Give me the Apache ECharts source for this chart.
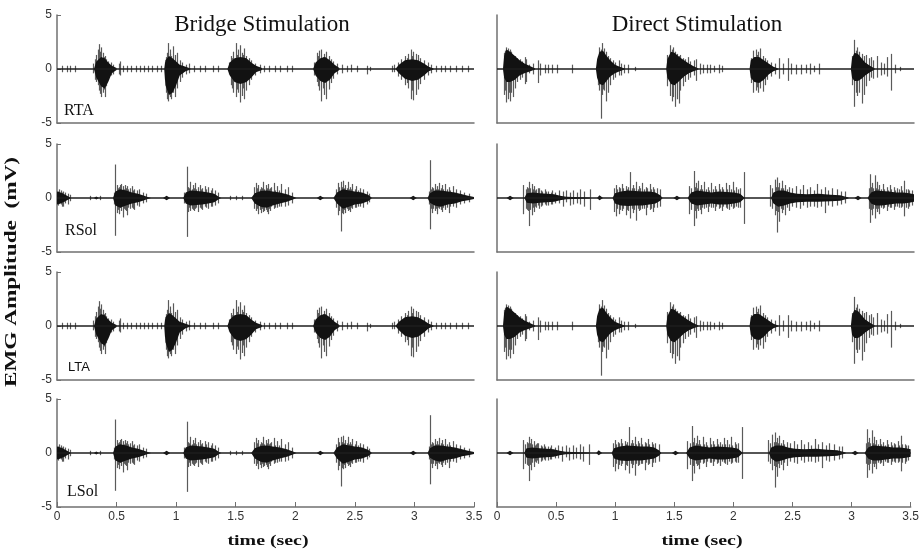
<!DOCTYPE html>
<html>
<head>
<meta charset="utf-8">
<script src="https://cdn.jsdelivr.net/npm/echarts@6/dist/echarts.min.js"></script>
<style>
  html, body { margin: 0; padding: 0; background: #fff; }
  #chart { width: 922px; height: 553px; }
</style>
</head>
<body>
<div id="chart"></div>
<script>
// axis ranges
var timeMin = 0, timeMax = 3.5, timeStep = 0.5;
var ampMin = -5, ampMax = 5, ampStep = 5;

var columns = ['Bridge Stimulation', 'Direct Stimulation'];
var muscles = ['RTA', 'RSol', 'LTA', 'LSol'];

// dense bursts: envelope points [t, upper, lower]
var bridgeTACores = [
  [[0.31,0,0],[0.33,0.7,-0.8],[0.37,1.1,-1.6],[0.40,1.0,-1.8],[0.43,0.6,-1.2],[0.46,0.3,-0.4],[0.50,0.1,-0.1]],
  [[0.90,0,0],[0.91,0.8,-1.5],[0.94,1.2,-2.4],[0.97,1.0,-2.2],[1.00,0.7,-1.5],[1.03,0.4,-0.6],[1.08,0.2,-0.2],[1.12,0.05,-0.05]],
  [[1.43,0,0],[1.45,0.6,-0.6],[1.49,1.0,-1.2],[1.54,1.1,-1.4],[1.59,1.0,-1.2],[1.63,0.6,-0.8],[1.67,0.3,-0.3],[1.72,0.1,-0.1]],
  [[2.15,0,0],[2.17,0.6,-0.6],[2.21,1.0,-1.1],[2.25,1.1,-1.3],[2.29,0.8,-1.0],[2.33,0.4,-0.4],[2.37,0.1,-0.1]],
  [[2.84,0,0],[2.87,0.4,-0.4],[2.92,0.8,-0.9],[2.98,0.9,-1.1],[3.03,0.8,-1.0],[3.08,0.5,-0.6],[3.12,0.2,-0.2],[3.16,0.05,-0.05]]
];
// single spikes: [t, upper, lower]
var bridgeTASpikes = [
  [0.04,0.3,-0.3],[0.08,0.3,-0.3],[0.11,0.3,-0.3],[0.15,0.3,-0.3],
  [0.30,0.5,-0.4],[0.32,0.9,-1.0],[0.33,1.3,-1.2],[0.34,1.8,-1.5],[0.355,2.3,-2.0],[0.365,1.6,-2.3],[0.37,2.0,-2.6],[0.385,1.5,-2.2],
  [0.395,1.1,-1.9],[0.40,1.2,-2.6],[0.415,0.9,-1.6],[0.43,0.7,-1.0],[0.45,0.6,-0.6],[0.47,0.4,-0.5],[0.52,0.5,-0.5],[0.53,0.7,-0.6],[0.55,0.3,-0.3],
  [0.59,0.3,-0.3],[0.62,0.3,-0.3],[0.66,0.3,-0.3],[0.70,0.3,-0.3],[0.73,0.3,-0.3],[0.76,0.3,-0.3],[0.80,0.3,-0.3],[0.84,0.3,-0.3],[0.87,0.3,-0.3],
  [0.905,0.6,-1.0],[0.915,1.1,-2.2],[0.92,1.5,-2.8],[0.935,2.4,-3.0],[0.945,1.4,-2.5],[0.95,1.8,-2.6],[0.96,1.2,-2.8],[0.97,2.1,-2.2],[0.99,1.3,-2.6],[1.01,1.5,-1.8],
  [1.03,0.8,-1.2],[1.05,0.6,-0.8],[1.08,0.4,-0.5],[1.11,0.5,-0.4],[1.15,0.3,-0.3],[1.20,0.3,-0.3],[1.24,0.3,-0.3],[1.31,0.3,-0.3],[1.35,0.3,-0.3],
  [1.44,0.6,-0.5],[1.46,1.2,-1.5],[1.47,1.0,-1.8],[1.48,1.6,-2.2],[1.50,2.4,-2.6],[1.51,1.3,-1.9],[1.52,1.8,-2.2],[1.535,2.2,-3.1],[1.55,1.5,-2.5],[1.56,1.3,-1.8],[1.57,1.9,-2.8],
  [1.59,1.2,-2.0],[1.61,1.0,-1.5],[1.63,0.8,-1.0],[1.66,0.5,-0.6],[1.70,0.4,-0.4],[1.74,0.3,-0.3],[1.78,0.3,-0.3],[1.83,0.3,-0.3],[1.87,0.3,-0.3],[1.93,0.3,-0.3],[1.97,0.3,-0.3],
  [2.16,0.6,-0.6],[2.18,1.5,-1.2],[2.19,1.2,-1.6],[2.20,1.7,-2.0],[2.22,1.8,-3.0],[2.23,1.1,-1.8],[2.24,1.4,-2.4],[2.26,1.6,-2.8],[2.28,1.2,-1.9],[2.30,0.9,-1.3],
  [2.32,0.7,-0.9],[2.35,0.5,-0.5],[2.39,0.4,-0.4],[2.43,0.3,-0.3],[2.47,0.4,-0.3],[2.52,0.3,-0.3],[2.60,0.3,-0.5],[2.63,0.2,-0.2],
  [2.81,0.3,-0.3],[2.83,0.4,-0.3],[2.86,0.6,-0.7],[2.89,0.9,-1.0],[2.92,1.2,-1.5],[2.94,1.0,-1.3],[2.95,1.4,-1.8],[2.97,1.8,-2.8],[2.98,1.2,-2.0],[2.99,1.6,-2.9],
  [3.01,1.4,-2.4],[3.03,1.3,-1.9],[3.05,1.0,-1.4],[3.08,0.8,-1.0],[3.11,0.6,-0.6],[3.14,0.4,-0.4],[3.18,0.3,-0.3],[3.22,0.3,-0.3],
  [3.26,0.3,-0.3],[3.30,0.3,-0.3],[3.35,0.3,-0.3],[3.40,0.3,-0.3],[3.45,0.3,-0.3]
];

var directTACores = [
  [[0.05,0,0],[0.06,1.2,-0.8],[0.08,1.8,-1.2],[0.11,1.6,-1.2],[0.15,1.2,-1.0],[0.19,0.8,-0.6],[0.23,0.5,-0.4],[0.28,0.25,-0.2],[0.32,0.05,-0.05]],
  [[0.83,0,0],[0.84,0.9,-0.8],[0.86,1.6,-1.4],[0.89,1.7,-1.5],[0.92,1.2,-1.1],[0.95,0.8,-0.7],[0.99,0.4,-0.4],[1.03,0.2,-0.2],[1.07,0.05,-0.05]],
  [[1.42,0,0],[1.43,0.9,-0.8],[1.46,1.6,-1.4],[1.49,1.5,-1.5],[1.53,1.1,-1.1],[1.57,0.8,-0.7],[1.61,0.5,-0.4],[1.65,0.25,-0.2],[1.69,0.05,-0.05]],
  [[2.12,0,0],[2.13,0.8,-0.8],[2.16,1.1,-1.2],[2.20,1.1,-1.3],[2.24,0.8,-1.0],[2.28,0.5,-0.5],[2.32,0.2,-0.2],[2.36,0.05,-0.05]],
  [[2.97,0,0],[2.98,1.0,-0.8],[3.00,1.5,-1.1],[3.03,1.4,-1.1],[3.06,1.0,-0.9],[3.09,0.6,-0.6],[3.13,0.3,-0.3],[3.17,0.05,-0.05]]
];
var directTASpikes = [
  [0.06,1.5,-2.4],[0.07,1.7,-2.0],[0.075,2.0,-3.1],[0.09,1.9,-2.8],[0.10,1.4,-2.2],[0.105,1.8,-3.0],[0.12,1.6,-2.2],[0.135,1.3,-2.6],[0.15,1.2,-1.8],
  [0.17,1.0,-1.2],[0.19,0.9,-1.0],[0.21,0.7,-0.8],[0.235,1.1,-1.4],[0.245,0.9,-1.2],[0.27,0.4,-0.4],[0.30,0.5,-0.5],
  [0.34,0.8,-1.3],[0.36,0.5,-0.6],[0.40,0.4,-0.4],[0.43,0.4,-0.4],[0.46,0.4,-0.4],[0.50,0.4,-0.4],[0.63,0.4,-0.4],
  [0.845,1.2,-1.5],[0.86,2.0,-2.0],[0.87,1.8,-4.6],[0.885,2.4,-2.4],[0.89,1.5,-1.9],[0.90,1.9,-2.0],[0.915,1.6,-3.0],[0.93,1.2,-2.2],
  [0.95,1.0,-1.5],[0.97,0.8,-1.0],[0.99,0.6,-0.8],[1.02,0.8,-0.6],[1.04,0.5,-0.6],[1.07,0.4,-0.4],[1.10,0.4,-0.4],[1.16,0.2,-0.2],
  [1.43,1.3,-1.6],[1.45,2.2,-2.5],[1.465,1.8,-3.0],[1.48,2.0,-2.6],[1.495,1.6,-3.5],[1.51,1.4,-2.8],[1.525,1.2,-3.2],
  [1.54,1.3,-2.0],[1.56,1.0,-1.6],[1.58,0.9,-1.2],[1.60,1.1,-1.0],[1.62,0.7,-0.8],[1.65,0.8,-0.6],[1.67,0.9,-1.1],
  [1.70,0.5,-0.5],[1.73,0.4,-0.4],[1.76,0.4,-0.4],[1.79,0.4,-0.4],[1.82,0.3,-0.3],[1.86,0.4,-0.4],[1.89,0.3,-0.3],
  [2.13,1.0,-1.3],[2.15,1.7,-2.2],[2.17,1.8,-2.0],[2.18,1.3,-1.7],[2.19,1.6,-2.2],[2.21,1.9,-1.8],[2.23,1.2,-2.1],[2.25,1.0,-1.5],
  [2.27,0.8,-1.0],[2.30,0.6,-0.7],[2.33,0.5,-0.5],[2.37,1.0,-0.9],[2.40,0.5,-0.5],[2.44,1.0,-1.1],[2.47,0.5,-0.5],
  [2.51,0.4,-0.5],[2.55,0.4,-0.5],[2.59,0.4,-0.4],[2.63,0.5,-0.5],[2.66,0.3,-0.3],[2.70,0.5,-0.5],
  [2.98,1.2,-1.5],[3.00,2.7,-3.5],[3.01,1.7,-2.2],[3.02,2.0,-2.5],[3.04,1.6,-2.2],[3.06,1.4,-3.2],[3.08,1.2,-2.4],[3.10,1.3,-1.6],
  [3.12,1.0,-1.1],[3.14,1.1,-0.8],[3.16,0.8,-0.9],[3.19,1.2,-0.8],[3.22,0.6,-0.6],[3.25,0.5,-0.5],[3.27,1.1,-0.7],
  [3.31,1.4,-2.0],[3.34,0.4,-0.4],[3.38,0.2,-0.2]
];

var bridgeSolCores = [
  [[0.0,0.6,-0.6],[0.03,0.5,-0.5],[0.07,0.3,-0.3],[0.11,0.05,-0.05]],
  [[0.31,0,0],[0.33,0.15,-0.15],[0.35,0,0]],
  [[0.47,0,0],[0.49,0.6,-0.7],[0.53,0.8,-0.9],[0.58,0.7,-0.7],[0.63,0.5,-0.5],[0.68,0.4,-0.4],[0.72,0.25,-0.25],[0.76,0.1,-0.1],[0.79,0,0]],
  [[0.89,0,0],[0.92,0.2,-0.2],[0.95,0,0]],
  [[1.06,0,0],[1.08,0.5,-0.5],[1.12,0.7,-0.7],[1.17,0.65,-0.65],[1.22,0.6,-0.6],[1.27,0.5,-0.5],[1.32,0.4,-0.4],[1.36,0.1,-0.1],[1.38,0,0]],
  [[1.63,0,0],[1.66,0.45,-0.5],[1.71,0.65,-0.8],[1.76,0.7,-0.9],[1.81,0.6,-0.7],[1.87,0.5,-0.5],[1.93,0.35,-0.35],[1.98,0.15,-0.15],[2.01,0,0]],
  [[2.18,0,0],[2.21,0.2,-0.2],[2.24,0,0]],
  [[2.32,0,0],[2.35,0.5,-0.5],[2.40,0.8,-1.0],[2.45,0.7,-0.8],[2.50,0.6,-0.6],[2.56,0.5,-0.5],[2.61,0.3,-0.3],[2.64,0.05,-0.05]],
  [[2.96,0,0],[2.99,0.2,-0.2],[3.02,0,0]],
  [[3.11,0,0],[3.13,0.45,-0.45],[3.17,0.7,-0.7],[3.22,0.7,-0.8],[3.28,0.6,-0.6],[3.34,0.5,-0.5],[3.40,0.35,-0.3],[3.45,0.2,-0.2],[3.5,0.1,-0.1]]
];
var bridgeSolSpikes = [
  [0.01,0.6,-0.7],[0.02,0.8,-0.5],[0.03,0.7,-0.6],[0.04,0.5,-0.8],[0.05,0.6,-0.8],[0.07,0.5,-0.5],[0.09,0.4,-0.6],[0.11,0.3,-0.3],
  [0.28,0.2,-0.2],[0.36,0.2,-0.2],
  [0.48,0.5,-0.6],[0.49,3.1,-3.5],[0.50,1.2,-1.4],[0.51,0.9,-1.1],[0.52,1.0,-1.5],[0.53,1.2,-0.9],[0.54,1.3,-1.2],[0.555,1.1,-1.8],[0.565,0.8,-1.0],[0.57,1.2,-1.1],
  [0.58,0.9,-1.2],[0.59,1.1,-1.6],[0.60,0.8,-0.9],[0.61,0.9,-1.0],[0.63,1.1,-0.9],[0.64,0.7,-1.0],[0.65,0.8,-1.1],[0.67,0.7,-0.7],[0.69,0.8,-0.8],[0.72,0.5,-0.5],[0.75,0.4,-0.4],
  [1.07,0.5,-0.5],[1.09,2.9,-3.6],[1.10,1.0,-1.3],[1.11,0.9,-0.9],[1.12,1.5,-1.2],[1.13,0.8,-1.0],[1.14,1.2,-1.1],[1.15,0.9,-1.2],[1.16,1.4,-1.0],[1.17,0.8,-0.9],[1.18,1.0,-1.3],
  [1.20,1.2,-0.9],[1.21,0.8,-1.0],[1.22,0.9,-1.1],[1.24,1.1,-0.8],[1.25,0.8,-0.9],[1.27,1.0,-1.0],[1.29,0.7,-0.8],[1.30,0.9,-0.8],[1.33,0.7,-0.7],[1.35,0.5,-0.5],
  [1.45,0.2,-0.2],[1.50,0.2,-0.2],[1.55,0.2,-0.2],
  [1.65,1.0,-1.0],[1.67,1.4,-1.2],[1.68,0.9,-1.0],[1.69,1.2,-1.5],[1.70,0.8,-1.1],[1.71,1.0,-1.4],[1.72,0.9,-1.0],[1.73,1.5,-1.3],[1.74,0.8,-1.2],[1.75,1.2,-1.1],[1.76,0.9,-1.3],[1.77,1.3,-1.5],
  [1.78,0.8,-1.0],[1.79,0.9,-1.2],[1.80,1.0,-0.8],[1.82,1.4,-1.0],[1.83,0.7,-0.9],[1.85,1.1,-0.9],[1.86,0.7,-0.8],[1.88,1.3,-0.8],[1.91,0.8,-0.8],[1.94,1.0,-0.7],[1.97,0.5,-0.5],
  [2.34,0.8,-0.9],[2.36,1.4,-1.6],[2.37,1.0,-1.2],[2.38,1.5,-3.1],[2.39,1.0,-1.4],[2.40,1.6,-1.5],[2.41,0.9,-1.1],[2.42,1.2,-1.4],[2.43,0.9,-1.0],[2.44,1.5,-1.2],[2.45,0.8,-1.1],[2.46,1.0,-1.3],
  [2.47,0.8,-0.9],[2.48,1.3,-1.0],[2.50,0.8,-0.9],[2.51,1.1,-0.9],[2.53,0.7,-0.8],[2.54,0.9,-0.8],[2.57,0.8,-0.9],[2.60,0.6,-0.6],[2.62,0.4,-0.4],
  [3.12,0.6,-0.6],[3.13,3.5,-2.9],[3.14,0.8,-1.0],[3.15,1.0,-1.4],[3.16,0.9,-1.0],[3.17,1.3,-1.2],[3.18,0.8,-1.0],[3.19,1.1,-1.5],[3.20,0.8,-0.9],[3.21,1.4,-1.0],[3.22,0.9,-1.1],[3.23,1.2,-1.3],
  [3.24,0.8,-0.9],[3.26,1.3,-1.1],[3.27,0.8,-0.9],[3.29,1.0,-1.4],[3.30,0.7,-0.8],[3.32,1.1,-0.8],[3.35,0.8,-0.9],[3.38,0.7,-0.6],[3.42,0.5,-0.5],[3.46,0.4,-0.4]
];

var directSolCores = [
  [[0.08,0,0],[0.11,0.2,-0.2],[0.14,0,0]],
  [[0.23,0,0],[0.25,0.45,-0.45],[0.30,0.5,-0.5],[0.36,0.45,-0.45],[0.42,0.4,-0.4],[0.48,0.35,-0.35],[0.53,0.2,-0.2],[0.58,0.12,-0.12],[0.70,0.08,-0.08],[0.78,0.05,-0.05]],
  [[0.84,0,0],[0.86,0.25,-0.2],[0.89,0,0]],
  [[0.97,0,0],[0.99,0.45,-0.5],[1.04,0.6,-0.7],[1.10,0.7,-0.75],[1.16,0.65,-0.7],[1.22,0.6,-0.7],[1.28,0.6,-0.6],[1.33,0.5,-0.5],[1.37,0.25,-0.25],[1.39,0,0]],
  [[1.48,0,0],[1.51,0.2,-0.2],[1.54,0,0]],
  [[1.60,0,0],[1.63,0.5,-0.5],[1.68,0.7,-0.7],[1.74,0.6,-0.6],[1.80,0.5,-0.5],[1.86,0.6,-0.6],[1.93,0.55,-0.6],[1.99,0.5,-0.5],[2.04,0.4,-0.4],[2.08,0,0]],
  [[2.30,0,0],[2.32,0.5,-0.5],[2.36,0.7,-0.8],[2.41,0.7,-0.7],[2.46,0.5,-0.5],[2.52,0.4,-0.4],[2.60,0.35,-0.35],[2.70,0.4,-0.35],[2.80,0.3,-0.3],[2.88,0.25,-0.25],[2.95,0.05,-0.05]],
  [[3.00,0,0],[3.03,0.2,-0.2],[3.06,0,0]],
  [[3.11,0,0],[3.14,0.5,-0.5],[3.18,0.7,-0.7],[3.23,0.65,-0.7],[3.29,0.6,-0.6],[3.35,0.5,-0.5],[3.41,0.5,-0.5],[3.46,0.45,-0.45],[3.5,0.35,-0.35]]
];
var directSolSpikes = [
  [0.22,1.2,-1.5],[0.24,0.8,-1.0],[0.25,1.0,-1.1],[0.26,0.9,-1.2],[0.27,1.5,-2.6],[0.28,0.9,-1.1],[0.29,1.3,-1.6],[0.30,0.8,-0.9],[0.31,1.1,-1.3],[0.32,0.7,-0.8],[0.33,0.8,-0.9],[0.34,0.9,-0.7],[0.35,0.9,-1.0],
  [0.37,0.7,-0.8],[0.38,0.6,-0.7],[0.40,0.8,-0.6],[0.41,0.6,-0.7],[0.43,0.6,-0.7],[0.45,0.5,-0.6],[0.46,0.7,-0.6],[0.49,0.5,-0.5],[0.52,0.7,-0.5],[0.55,0.6,-0.8],
  [0.58,0.7,-0.4],[0.61,0.5,-0.7],[0.64,0.7,-0.6],[0.67,0.5,-0.5],[0.70,0.8,-0.6],[0.73,0.6,-0.8],[0.78,0.8,-1.1],
  [0.98,0.9,-1.3],[1.00,1.2,-1.7],[1.01,0.8,-1.0],[1.02,1.0,-1.5],[1.03,0.9,-1.1],[1.05,1.3,-1.2],[1.06,0.9,-1.0],[1.08,1.1,-1.6],[1.09,0.8,-1.1],[1.10,1.0,-1.2],[1.12,2.4,-1.9],[1.13,0.9,-1.0],[1.14,1.2,-1.4],
  [1.15,0.9,-1.1],[1.17,1.5,-2.1],[1.18,0.8,-1.0],[1.19,1.1,-1.2],[1.20,0.9,-1.1],[1.22,1.4,-1.0],[1.23,0.8,-1.0],[1.25,1.0,-1.6],[1.26,0.9,-0.9],[1.28,1.3,-1.1],[1.29,0.8,-1.0],[1.31,1.0,-1.3],[1.32,0.8,-0.9],[1.34,0.9,-0.9],[1.37,0.8,-0.8],
  [1.61,1.1,-1.5],[1.63,0.9,-1.1],[1.65,2.5,-2.6],[1.66,1.0,-1.2],[1.67,1.4,-1.9],[1.68,0.9,-1.0],[1.69,1.6,-1.2],[1.70,0.8,-1.1],[1.71,1.2,-1.5],[1.72,0.8,-0.9],[1.74,1.5,-1.0],[1.75,0.8,-0.9],[1.77,1.0,-1.3],
  [1.78,0.7,-0.8],[1.80,1.4,-0.9],[1.81,0.8,-0.9],[1.83,1.1,-1.2],[1.84,0.8,-0.8],[1.86,1.3,-1.0],[1.87,0.8,-0.9],[1.89,1.0,-1.2],[1.90,0.8,-0.8],[1.92,1.4,-0.9],[1.93,0.8,-1.0],[1.95,1.2,-1.1],
  [1.96,0.8,-0.8],[1.98,1.5,-1.0],[1.99,0.7,-0.9],[2.01,1.0,-0.8],[2.02,0.8,-0.9],[2.04,0.9,-0.9],[2.07,2.4,-2.4],
  [2.29,1.2,-0.8],[2.31,0.9,-1.0],[2.33,1.7,-1.6],[2.34,1.0,-1.2],[2.35,1.9,-3.2],[2.36,1.0,-1.3],[2.37,1.4,-2.2],[2.38,0.9,-1.0],[2.39,1.6,-1.4],[2.40,0.9,-1.1],[2.42,1.2,-1.6],[2.43,0.8,-0.9],[2.45,1.0,-1.2],
  [2.48,0.9,-0.8],[2.51,1.1,-0.9],[2.54,0.8,-1.0],[2.57,1.2,-0.7],[2.60,0.8,-0.9],[2.63,1.0,-0.8],[2.66,0.7,-0.8],
  [2.69,1.3,-0.9],[2.72,0.8,-0.8],[2.75,1.0,-1.4],[2.78,0.7,-0.7],[2.81,0.9,-0.8],[2.85,0.8,-0.7],[2.89,0.6,-0.6],[2.92,0.6,-0.5],
  [3.12,0.9,-1.0],[3.13,2.2,-2.3],[3.14,1.0,-1.1],[3.15,1.4,-1.6],[3.16,0.9,-1.0],[3.17,2.1,-1.9],[3.18,0.9,-1.0],[3.19,1.5,-1.3],[3.20,0.8,-1.0],[3.21,1.2,-1.5],[3.22,0.8,-0.9],[3.24,1.3,-1.0],
  [3.25,0.8,-0.9],[3.27,1.0,-1.2],[3.28,0.7,-0.8],[3.30,1.2,-0.9],[3.31,0.8,-0.9],[3.33,1.0,-1.1],[3.34,0.7,-0.8],[3.36,0.9,-0.8],[3.37,0.8,-0.9],[3.39,1.1,-0.9],[3.40,0.7,-0.8],
  [3.42,1.6,-1.7],[3.43,0.8,-0.9],[3.45,0.8,-1.0],[3.46,0.7,-0.8],[3.48,0.7,-0.7]
];

// which trace goes in each panel [row][col]
var traces = [
  [[bridgeTACores, bridgeTASpikes], [directTACores, directTASpikes]],
  [[bridgeSolCores, bridgeSolSpikes], [directSolCores, directSolSpikes]],
  [[bridgeTACores, bridgeTASpikes], [directTACores, directTASpikes]],
  [[bridgeSolCores, bridgeSolSpikes], [directSolCores, directSolSpikes]]
];

var colLeft = [57, 497];
var rowTop = [15, 144, 272, 399];
var panelW = 417, panelH = 108;
var axisGray = '#707070';
var serif = 'Liberation Serif, Times New Roman, serif';
var sans = 'Liberation Sans, Arial, sans-serif';

function spikeItem(params, api) {
  var t = api.value(0);
  var p1 = api.coord([t, api.value(1)]);
  var p2 = api.coord([t, api.value(2)]);
  var px = Math.round(p1[0]) + 0.5;
  return {
    type: 'line',
    shape: {x1: px, y1: p1[1], x2: px, y2: p2[1]},
    style: {stroke: '#5a5a5a', lineWidth: 1.2}
  };
}

function coreRenderer(cores) {
  return function (params, api) {
    var env = cores[params.dataIndex];
    var pts = [];
    env.forEach(function (d) { pts.push(api.coord([d[0], d[1]])); });
    for (var i = env.length - 1; i >= 0; i--) {
      pts.push(api.coord([env[i][0], env[i][2]]));
    }
    return {type: 'polygon', shape: {points: pts}, style: {fill: '#121212'}};
  };
}

var grid = [], xAxis = [], yAxis = [], series = [];
var idx = 0;
for (var r = 0; r < 4; r++) {
  for (var c = 0; c < 2; c++) {
    var bottomRow = r === 3;
    grid.push({left: colLeft[c], top: rowTop[r], width: panelW, height: panelH});
    xAxis.push({
      type: 'value', gridIndex: idx, min: timeMin, max: timeMax, interval: timeStep,
      axisLine: {onZero: false, lineStyle: {color: axisGray, width: 1.5}},
      axisTick: {show: bottomRow, inside: true, length: 5, lineStyle: {color: axisGray}},
      axisLabel: {show: bottomRow, margin: 4, color: '#333', fontFamily: sans, fontSize: 12},
      splitLine: {show: false}
    });
    yAxis.push({
      type: 'value', gridIndex: idx, min: ampMin, max: ampMax, interval: ampStep,
      axisLine: {show: true, onZero: false, lineStyle: {color: axisGray, width: 1.5}},
      axisTick: {show: c === 0, inside: true, length: 4, lineStyle: {color: axisGray}},
      axisLabel: {show: c === 0, margin: 5, color: '#333', fontFamily: sans, fontSize: 12},
      splitLine: {show: false}
    });
    var cores = traces[r][c][0], spikes = traces[r][c][1];
    series.push({
      type: 'custom', xAxisIndex: idx, yAxisIndex: idx, clip: true, silent: true,
      renderItem: spikeItem,
      encode: {x: 0, y: [1, 2]},
      data: spikes
    });
    series.push({
      type: 'custom', xAxisIndex: idx, yAxisIndex: idx, clip: true, silent: true,
      renderItem: coreRenderer(cores),
      encode: {x: [0, 1], y: 2},
      data: cores.map(function (env) { return [env[0][0], env[env.length - 1][0], 0]; })
    });
    series.push({
      type: 'line', xAxisIndex: idx, yAxisIndex: idx, silent: true,
      showSymbol: false, symbol: 'none',
      lineStyle: {color: '#1e1e1e', width: 1.4},
      data: [[timeMin, 0], [timeMax, 0]]
    });
    idx++;
  }
}

var graphic = [
  {type: 'text', x: 262, y: 25, style: {text: columns[0], font: '23px ' + serif, fill: '#111', align: 'center', verticalAlign: 'middle'}},
  {type: 'text', x: 697, y: 25, style: {text: columns[1], font: '23px ' + serif, fill: '#111', align: 'center', verticalAlign: 'middle'}},
  {type: 'text', x: 64, y: 111, style: {text: muscles[0], font: '16px ' + serif, fill: '#111', verticalAlign: 'middle'}},
  {type: 'text', x: 65, y: 231, style: {text: muscles[1], font: '16px ' + serif, fill: '#111', verticalAlign: 'middle'}},
  {type: 'text', x: 68, y: 367, style: {text: muscles[2], font: '13px ' + sans, fill: '#111', verticalAlign: 'middle'}},
  {type: 'text', x: 67, y: 492, style: {text: muscles[3], font: '16px ' + serif, fill: '#111', verticalAlign: 'middle'}},
  {type: 'text', x: 12, y: 272, rotation: Math.PI / 2, scaleX: 1.45,
    style: {text: 'EMG Amplitude  (mV)', font: 'bold 16px ' + serif, fill: '#111', align: 'center', verticalAlign: 'middle'}},
  {type: 'text', x: 268, y: 541, scaleX: 1.42,
    style: {text: 'time (sec)', font: 'bold 14px ' + serif, fill: '#111', align: 'center', verticalAlign: 'middle'}},
  {type: 'text', x: 702, y: 541, scaleX: 1.42,
    style: {text: 'time (sec)', font: 'bold 14px ' + serif, fill: '#111', align: 'center', verticalAlign: 'middle'}}
];

var chart = echarts.init(document.getElementById('chart'));
chart.setOption({
  animation: false,
  backgroundColor: '#fff',
  grid: grid,
  xAxis: xAxis,
  yAxis: yAxis,
  series: series,
  graphic: graphic
});
</script>
</body>
</html>
